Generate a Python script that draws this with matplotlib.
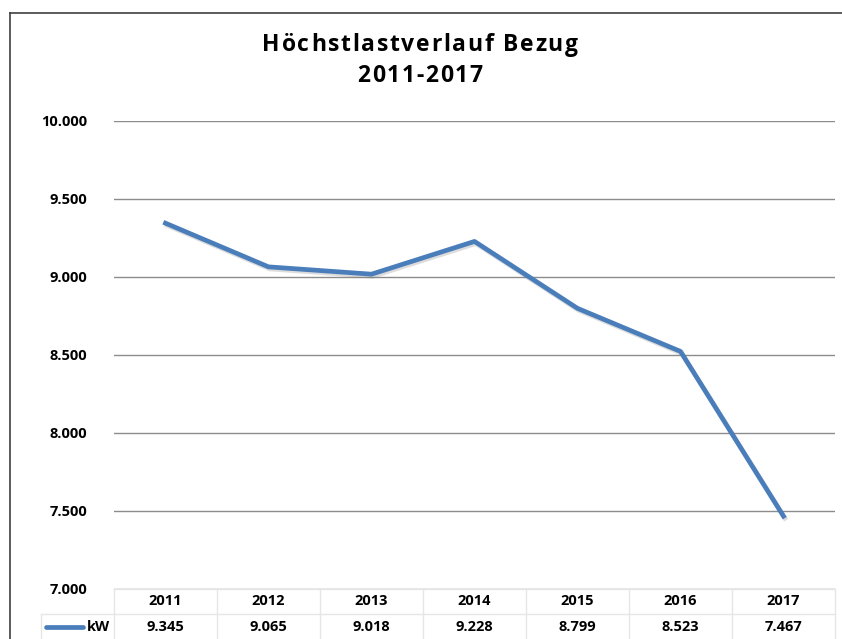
import numpy as np
import matplotlib.pyplot as plt
import matplotlib.patheffects as pe
from matplotlib.lines import Line2D
from matplotlib.ticker import FuncFormatter

plt.rcParams['font.family'] = ['Open Sans', 'DejaVu Sans']

jahre = ['2011', '2012', '2013', '2014', '2015', '2016', '2017']
kw = [9345, 9065, 9018, 9228, 8799, 8523, 7467]
kw_text = ['9.345', '9.065', '9.018', '9.228', '8.799', '8.523', '7.467']
serie = 'kW'
titel_zeilen = ['Höchstlastverlauf Bezug', '2011-2017']

W, H = 842, 639
fig = plt.figure(figsize=(W / 100, H / 100), dpi=100)
renderer = fig.canvas.get_renderer()


def fy(py):
    return (H - py) / H


def gesperrt(text, xc, yc, extra, **kw_args):
    # Text mit Zeichenabstand, zentriert bei (xc, yc) in Pixeln
    teile = []
    for ch in text:
        t = fig.text(0, fy(yc), ch, ha='left', va='center', **kw_args)
        teile.append((t, t.get_window_extent(renderer).width))
    gesamt = sum(w for _, w in teile) + extra * (len(teile) - 1)
    xp = xc - gesamt / 2
    for t, w in teile:
        t.set_x(xp / W)
        xp += w + extra


# Rahmen des Diagrammbereichs (rechts/unten abgeschnitten)
fig.add_artist(Line2D([10 / W, 10 / W], [0, fy(13)], color='#404040', lw=1.2))
fig.add_artist(Line2D([10 / W, 1], [fy(13), fy(13)], color='#404040', lw=1.2))

# Zeichenfläche
x0, x1 = 114, 835
y_top, y_bot = 121, 589
ax = fig.add_axes([x0 / W, (H - y_bot) / H, (x1 - x0) / W, (y_bot - y_top) / H])

x = np.arange(len(jahre))
ax.set_xlim(-0.5, len(jahre) - 0.5)
ax.set_ylim(7000, 10000)
ax.set_yticks(np.arange(7000, 10001, 500))
ax.yaxis.set_major_formatter(FuncFormatter(lambda v, p: f'{int(v):,}'.replace(',', '.')))
ax.grid(axis='y', color='#8c8c8c', lw=1.0)
ax.set_axisbelow(True)
ax.set_xticks([])
ax.tick_params(axis='y', length=0, pad=19.5, labelsize=10.5)
for lab in ax.get_yticklabels():
    lab.set_fontweight('bold')
for s in ax.spines.values():
    s.set_visible(False)

ax.plot(x, kw, color='#4a7ebb', lw=3.4, solid_joinstyle='round',
        path_effects=[pe.SimpleLineShadow(offset=(1, -1.5), shadow_color='#777777', alpha=0.25),
                      pe.Normal()])

gesperrt(titel_zeilen[0], 420, 45, 1.7, fontsize=16.5, fontweight='bold')
gesperrt(titel_zeilen[1], 420, 76, 1.7, fontsize=16.5, fontweight='bold')

# Datentabelle unter der Achse
tab_col = '#e6e6e6'
row1 = 614
fig.add_artist(Line2D([x0 / W, x1 / W], [fy(y_bot), fy(y_bot)], color=tab_col, lw=1))
fig.add_artist(Line2D([41 / W, x1 / W], [fy(row1), fy(row1)], color=tab_col, lw=1))
fig.add_artist(Line2D([41 / W, 41 / W], [fy(row1), 0], color=tab_col, lw=1))
for i in range(len(jahre) + 1):
    xp = x0 + i * (x1 - x0) / len(jahre)
    fig.add_artist(Line2D([xp / W, xp / W], [fy(y_bot), 0], color=tab_col, lw=1))

for i, (j, v) in enumerate(zip(jahre, kw_text)):
    xp = x0 + (i + 0.5) * (x1 - x0) / len(jahre)
    fig.text(xp / W, fy(601), j, ha='center', va='center', fontsize=10.5, fontweight='bold')
    fig.text(xp / W, fy(627), v, ha='center', va='center', fontsize=10.5, fontweight='bold')

fig.add_artist(Line2D([46 / W, 83 / W], [fy(627), fy(627)], color='#4a7ebb', lw=3.4,
                      solid_capstyle='round'))
fig.text(87 / W, fy(627), serie, ha='left', va='center', fontsize=10.5, fontweight='bold')

fig.savefig('out.png', dpi=100)
